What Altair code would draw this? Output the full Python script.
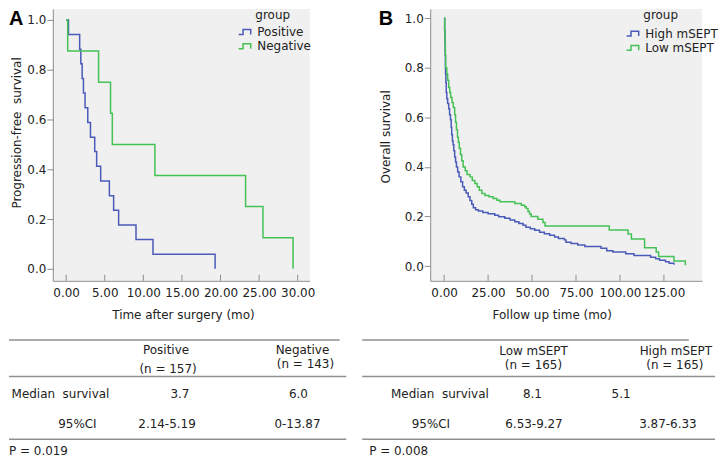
import altair as alt
import pandas as pd

FONT = "DejaVu Sans"
BLUE = "#4a5ab8"
GREEN = "#45c155"
GRAY = "#8c8c8c"
TXT = "#222222"

# ---------------- Panel A: progression-free survival ----------------
groups_A = ["Positive", "Negative"]
pos_t = [0, 0.3, 1.75, 1.9, 2.07, 2.24, 2.45, 2.8, 3.15, 3.7, 3.95, 4.47, 5.6, 6.15, 6.8, 9.05, 11.25, 19.3]
pos_s = [1.0, 0.941, 0.882, 0.824, 0.765, 0.706, 0.647, 0.588, 0.529, 0.471, 0.412, 0.353, 0.294, 0.235, 0.176, 0.118, 0.059, 0.0]
neg_t = [0, 0.2, 4.2, 5.75, 5.98, 11.5, 23.25, 25.5, 29.4]
neg_s = [1.0, 0.875, 0.75, 0.625, 0.5, 0.375, 0.25, 0.125, 0.0]
xticks_A = [0, 5, 10, 15, 20, 25, 30]

# ---------------- Panel B: overall survival ----------------
groups_B = ["High mSEPT", "Low mSEPT"]
high_t = [0, 0.3, 0.5, 0.6, 0.7, 0.8, 1.0, 1.2, 1.5, 2.0, 2.6, 3.1, 3.6, 4.0, 4.3, 4.7, 5.1, 5.5,
          6.0, 6.5, 7.0, 7.7, 8.5, 9.5, 10.5, 11.5, 12.5, 13.7, 14.7, 15.7, 16.6, 17.9, 19.5, 22.0,
          25.0, 28.8, 31.0, 34.5, 37.5, 40.2, 42.5, 44.9, 46.5, 49.0, 51.5, 54.3, 57.0, 60.0, 62.8,
          65.0, 68.4, 69.3, 72.2, 76.0, 80.0, 89.2, 92.5, 96.0, 103.3, 108.0, 117.4, 120.3, 122.5,
          125.9, 128.0, 130.7]
high_s = [1.0, 0.95, 0.90, 0.85, 0.80, 0.775, 0.74, 0.70, 0.675, 0.656, 0.635, 0.61, 0.59, 0.56,
          0.53, 0.505, 0.49, 0.465, 0.44, 0.42, 0.40, 0.38, 0.36, 0.34, 0.32, 0.306, 0.295, 0.28,
          0.265, 0.25, 0.236, 0.227, 0.222, 0.216, 0.211, 0.205, 0.199, 0.193, 0.186, 0.179, 0.172,
          0.165, 0.157, 0.151, 0.145, 0.137, 0.131, 0.125, 0.118, 0.112, 0.106, 0.096, 0.091, 0.085,
          0.079, 0.072, 0.062, 0.057, 0.050, 0.043, 0.036, 0.030, 0.024, 0.018, 0.012, 0.006]
low_t = [0, 0.3, 0.5, 0.7, 0.9, 1.5, 2.0, 2.6, 3.2, 3.7, 4.5, 5.2, 6.0, 6.5, 7.0, 7.6, 8.1, 8.6,
         9.3, 10.0, 10.8, 12.0, 13.0, 14.7, 16.0, 17.5, 18.8, 20.0, 21.5, 23.2, 25.5, 27.9, 30.0,
         31.7, 40.2, 43.9, 45.8, 46.7, 47.7, 48.6, 49.5, 53.3, 56.2, 57.4, 93.9, 104.6, 106.5,
         114.0, 120.6, 122.0, 130.7, 137.2]
low_s = [1.0, 0.95, 0.90, 0.85, 0.80, 0.775, 0.75, 0.72, 0.70, 0.68, 0.66, 0.64, 0.61, 0.58,
         0.55, 0.52, 0.50, 0.475, 0.45, 0.425, 0.40, 0.385, 0.37, 0.36, 0.345, 0.333, 0.32, 0.306,
         0.293, 0.285, 0.28, 0.273, 0.266, 0.26, 0.253, 0.246, 0.24, 0.233, 0.22, 0.21, 0.20, 0.189,
         0.176, 0.162, 0.146, 0.13, 0.11, 0.074, 0.057, 0.039, 0.021, 0.004]
xticks_B = [0, 25, 50, 75, 100, 125]
yticks = [0.0, 0.2, 0.4, 0.6, 0.8, 1.0]

# ---------------- Tables ----------------
row_labels = ["Median\u00a0 survival", "95%CI"]
tab_groups_A = ["Positive", "Negative"]
tab_n_A = ["(n = 157)", "(n = 143)"]
median_A = ["3.7", "6.0"]
ci_A = ["2.14-5.19", "0-13.87"]
p_A = "P = 0.019"
tab_groups_B = ["Low mSEPT", "High mSEPT"]
tab_n_B = ["(n = 165)", "(n = 165)"]
median_B = ["8.1", "5.1"]
ci_B = ["6.53-9.27", "3.87-6.33"]
p_B = "P = 0.008"

STEP_PATH = "M-1.5,0.45L-0.7,0.45L-0.7,-0.45L0.7,-0.45L0.7,0.45"


def km_frame(series):
    rows = []
    for name, ts, ss in series:
        for t, s in zip(ts, ss):
            rows.append({"t": t, "s": s, "group": name})
    return pd.DataFrame(rows)


def make_plot(df, groups, xdom, ydom, xticks, w, h, xtitle, ytitle,
              xtitle_x, ytitle_x, ytitle_y, leg_x, leg_y, letter, letter_x):
    xenc = alt.X("t:Q", scale=alt.Scale(domain=xdom, nice=False, zero=False),
                 axis=alt.Axis(values=xticks, format=".2f", ticks=False, labelPadding=7,
                               labelFlush=False, labelOverlap=False, title=xtitle,
                               titleX=xtitle_x, titleY=34, titleBaseline="middle",
                               titleAlign="center"))
    curves = alt.Chart(df).mark_line(interpolate="step-after", strokeWidth=1.5).encode(
        x=xenc,
        y=alt.Y("s:Q", scale=alt.Scale(domain=ydom, nice=False, zero=False),
                axis=alt.Axis(values=yticks, format=".1f", tickSize=6, labelPadding=1,
                              title=ytitle, titleX=ytitle_x, titleY=ytitle_y,
                              titleBaseline="middle", titleAlign="center", titleAngle=-90)),
        color=alt.Color("group:N", scale=alt.Scale(domain=groups, range=[BLUE, GREEN]),
                        legend=alt.Legend(orient="none", legendX=leg_x, legendY=leg_y,
                                          title=None, rowPadding=1.3,
                                          symbolType=STEP_PATH, symbolSize=121,
                                          symbolStrokeWidth=1.5,
                                          symbolFillColor="transparent",
                                          labelOffset=4, padding=0, labelLimit=200)),
    )
    ticks = alt.Chart(pd.DataFrame({"t": xticks})).mark_rule(color=GRAY, strokeWidth=1).encode(
        x=xenc, y=alt.value(h - 6), y2=alt.value(h))
    lab = alt.Chart(pd.DataFrame({"lab": [letter]})).mark_text(
        font="Liberation Sans", fontSize=20, fontWeight="bold", align="left",
        baseline="top", color="#000000").encode(
        text="lab:N", x=alt.value(letter_x), y=alt.value(0))
    gtitle = alt.Chart(pd.DataFrame({"g": ["group"]})).mark_text(
        font=FONT, fontSize=12, align="left", baseline="middle", color=TXT).encode(
        text="g:N", x=alt.value(leg_x + 15), y=alt.value(6))
    return alt.layer(curves, ticks, lab, gtitle).properties(
        width=w, height=h, view=alt.ViewBackground(fill="#f0f0f0", stroke=None))


def make_table(groups, ns, medians, cis, p_text, w, h, cell_x, cell_y,
               p_x, p_y, top_line, full_line, line_ys):
    texts = [groups[0], groups[1], ns[0], ns[1], row_labels[0], medians[0], medians[1],
             row_labels[1], cis[0], cis[1]]
    df = pd.DataFrame({"cell": list(range(len(texts))), "text": texts})
    dom = list(range(len(texts)))
    txt = alt.Chart(df).mark_text(font=FONT, fontSize=12, color=TXT, align="center",
                                  baseline="middle").encode(
        x=alt.X("cell:Q", scale=alt.Scale(domain=dom, range=cell_x), axis=None),
        y=alt.Y("cell:Q", scale=alt.Scale(domain=dom, range=cell_y), axis=None),
        text="text:N")
    ptxt = alt.Chart(pd.DataFrame({"p": [p_text]})).mark_text(
        font=FONT, fontSize=12, color=TXT, align="left", baseline="middle").encode(
        text="p:N", x=alt.value(p_x), y=alt.value(p_y))
    dummy = pd.DataFrame({"k": [0]})
    lines = []
    for (x1, x2), yv in zip([top_line, full_line, full_line], line_ys):
        lines.append(alt.Chart(dummy).mark_rule(color="#909090", strokeWidth=1.5).encode(
            x=alt.value(x1), x2=alt.value(x2), y=alt.value(yv)))
    return alt.layer(txt, ptxt, *lines).properties(width=w, height=h)


dfA = km_frame([(groups_A[0], pos_t, pos_s), (groups_A[1], neg_t, neg_s)])
dfB = km_frame([(groups_B[0], high_t, high_s), (groups_B[1], low_t, low_s)])

plotA = make_plot(dfA, groups_A, [-1.73, 31.56], [-0.048, 1.044], xticks_A, 258, 273,
                  "Time after surgery (mo)", "Progression-free\u00a0 survival",
                  130.7, -36, 124, 188.4, 16.7, "A", -44)
plotB = make_plot(dfB, groups_B, [-7.92, 146.7], [-0.059, 1.037], xticks_B, 273, 273,
                  "Follow up time (mo)", "Overall survival",
                  122, -44.7, 128, 199, 18.3, "B", -51.7)

tableA = make_table(tab_groups_A, tab_n_A, median_A, ci_A, p_A, 258, 179,
                    [113.7, 250.7, 115.7, 253.7, 7.7, 127.7, 246.7, 24.7, 114.7, 245.7],
                    [70, 70, 89, 84, 114, 114, 114, 143.5, 143.5, 143.5],
                    -44, 171, (-44, 288), (-44, 294.7), [59.5, 96, 159])
tableB = make_table(tab_groups_B, tab_n_B, median_B, ci_B, p_B, 273, 179,
                    [103.7, 246.7, 103.7, 245.7, 9.7, 102.7, 191.7, 0.7, 104.2, 238.7],
                    [71, 71, 85, 85, 114, 114, 114, 143.5, 143.5, 143.5],
                    -61.3, 171, (-68.3, 259.7), (-68.3, 286), [59.5, 96, 159])

chart = alt.concat(plotA, plotB, tableA, tableB, columns=2, bounds="flush",
                   spacing={"row": 0, "column": 121}).resolve_scale(
    color="independent").properties(padding=0).configure_view(
    stroke=None).configure_axis(
    labelFont=FONT, titleFont=FONT, labelFontSize=12, titleFontSize=12,
    titleFontWeight="normal", labelColor=TXT, titleColor=TXT, domainColor=GRAY,
    tickColor=GRAY, grid=False).configure_legend(
    labelFont=FONT, titleFont=FONT, labelFontSize=12, titleFontSize=12,
    titleFontWeight="normal", labelColor=TXT, titleColor=TXT)

chart.save("out.html", embed_options={"renderer": "svg", "actions": False})
